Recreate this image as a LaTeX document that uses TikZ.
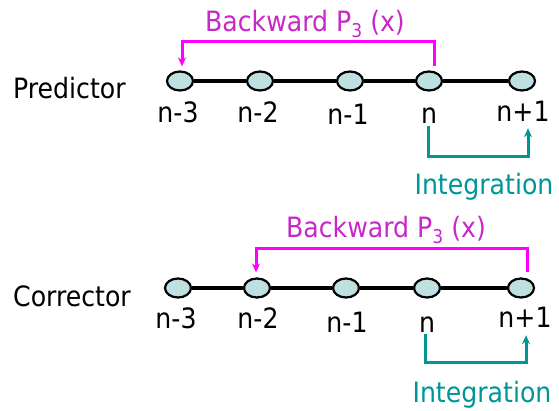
\documentclass[tikz,border=0pt]{standalone}
\usepackage{fontspec}
\setmainfont{DejaVu Sans Condensed}
\usetikzlibrary{arrows.meta,shapes.geometric}
\definecolor{dotfill}{RGB}{190,224,224}
\definecolor{magline}{RGB}{255,0,255}
\definecolor{magtext}{RGB}{200,40,200}
\definecolor{intteal}{RGB}{0,150,150}
\tikzset{
  dot/.style={ellipse, draw=black, line width=2.2pt, fill=dotfill,
    minimum width=26pt, minimum height=19pt, inner sep=0pt},
  txt/.style={font=\fontsize{28}{32}\selectfont, inner sep=2pt},
  lbl/.style={txt, anchor=base},
  chain/.style={line width=3.2pt, black},
  back/.style={line width=3pt, magline, -{Stealth[length=9pt,width=8pt]}},
  intg/.style={line width=3pt, intteal, -{Stealth[length=9pt,width=8pt]}},
  backtxt/.style={txt, anchor=base, text=magtext},
  inttxt/.style={txt, anchor=base, text=intteal},
}
\newcommand{\subthree}{\raisebox{-6pt}{\fontsize{19}{19}\selectfont 3}}
\begin{document}
\begin{tikzpicture}[x=1pt,y=-1pt]
\useasboundingbox (0,0) rectangle (559,411);

% ---------- Predictor ----------
\node[txt, anchor=base west] (pred) at (11,99) {Predictor};
\node[dot] (p3) at (180,81) {};
\node[dot] (p2) at (260,81) {};
\node[dot] (p1) at (350,81) {};
\node[dot] (p0) at (429,81) {};
\node[dot] (pp) at (522,81) {};
\draw[chain] (p3) -- (p2) -- (p1) -- (p0) -- (pp);

\node[lbl] (lp3) at (178,123) {n-3};
\node[lbl] (lp2) at (258,123) {n-2};
\node[lbl] (lp1) at (348,125) {n-1};
\node[lbl] (lp0) at (429,124) {n};
\node[lbl] (lpp) at (523,122) {n+1};

\node[backtxt] (bp) at (305,32) {Backward P\subthree\ (x)};
\coordinate (bpr) at (434,42);
\coordinate (bpl) at (182,42);
\draw[back] ([xshift=5pt,yshift=4pt]p0.north) -- (bpr) -- (bpl) -- ([xshift=2pt,yshift=4pt]p3.north);

\node[inttxt] (ip) at (484,195) {Integration};
\coordinate (ipl) at (428,157);
\coordinate (ipr) at (528,157);
\draw[intg] ([xshift=-1pt]lp0.south) -- (ipl) -- (ipr) -- ([xshift=5pt,yshift=-4pt]lpp.south);

% ---------- Corrector ----------
\node[txt, anchor=base west] (corr) at (11,307) {Corrector};
\node[dot] (c3) at (178,288) {};
\node[dot] (c2) at (257,288) {};
\node[dot] (c1) at (346,288) {};
\node[dot] (c0) at (427,288) {};
\node[dot] (cp) at (521,288) {};
\draw[chain] (c3) -- (c2) -- (c1) -- (c0) -- (cp);

\node[lbl] (lc3) at (176,328) {n-3};
\node[lbl] (lc2) at (258,328) {n-2};
\node[lbl] (lc1) at (347,332) {n-1};
\node[lbl] (lc0) at (427,332) {n};
\node[lbl] (lcp) at (525,327) {n+1};

\node[backtxt] (bc) at (386,238) {Backward P\subthree\ (x)};
\coordinate (bcr) at (527,249);
\coordinate (bcl) at (256,249);
\draw[back] ([xshift=6pt,yshift=5pt]cp.north) -- (bcr) -- (bcl) -- ([xshift=-1pt,yshift=5pt]c2.north);

\node[inttxt] (ic) at (482,402) {Integration};
\coordinate (icl) at (425,362);
\coordinate (icr) at (526,362);
\draw[intg] ([xshift=-2pt]lc0.south) -- (icl) -- (icr) -- ([xshift=1pt,yshift=-6pt]lcp.south);
\end{tikzpicture}
\end{document}
